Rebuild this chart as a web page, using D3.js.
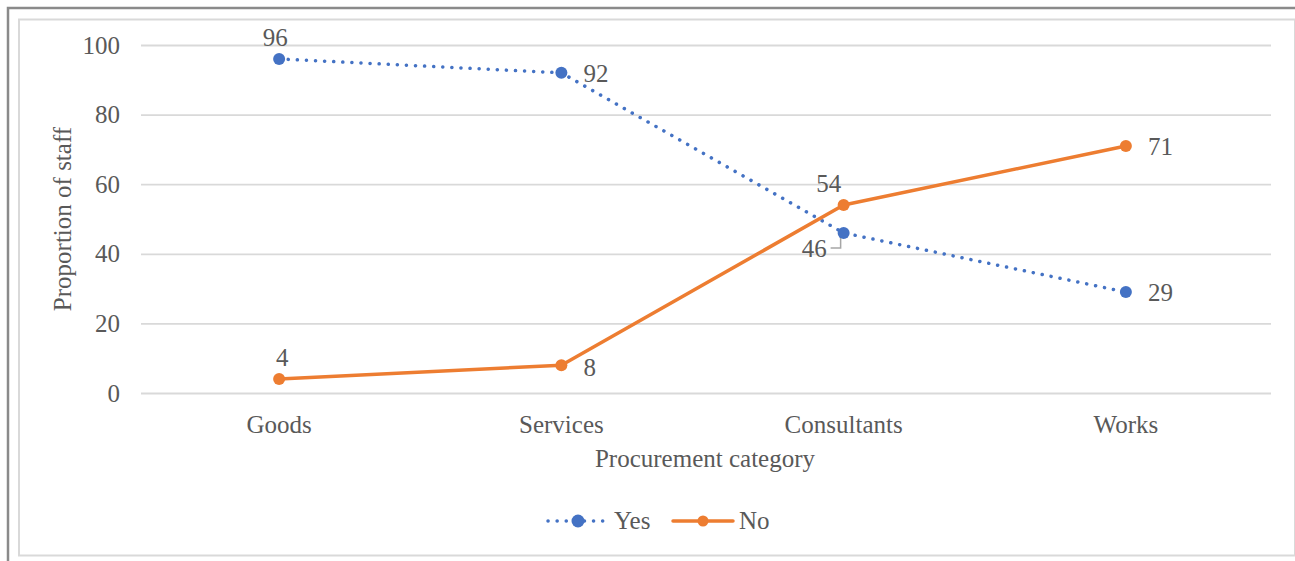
<!DOCTYPE html>
<html>
<head>
<meta charset="utf-8">
<script src="https://cdn.jsdelivr.net/npm/d3@7"></script>
<style>
  html, body { margin: 0; padding: 0; background: #fff; }
  svg { display: block; }
  text { font-family: "Liberation Serif", "Times New Roman", serif; fill: #595959; }
</style>
</head>
<body>
<svg id="chart" width="1295" height="561"></svg>
<script>
// Procurement categories along the x axis
const categories = ["Goods", "Services", "Consultants", "Works"];
// Share of staff answering Yes / No in each category
const yesValues = [96, 92, 46, 29];
const noValues = [4, 8, 54, 71];
// Label placement for each data label (above / right / left with leader)
const yesLabelPos = ["above", "right", "leaderLeft", "right"];
const noLabelPos = ["above", "right", "above", "right"];
const yTicks = [0, 20, 40, 60, 80, 100];

const series = [
  { name: "Yes", values: yesValues, color: "#4472C4", dotted: true, labels: yesLabelPos, shift: [-4, 0, 0, 0] },
  { name: "No", values: noValues, color: "#ED7D31", dotted: false, labels: noLabelPos, shift: [3, 0, -15, 0] }
];

const W = 1295, H = 561;
const FS = 25;
const plot = { left: 141, right: 1271, top: 45, bottom: 393 };
const svg = d3.select("#chart");

// Outer frames
svg.append("rect").attr("x", 8).attr("y", 8).attr("width", W).attr("height", H)
  .attr("fill", "none").attr("stroke", "#8a8a8a").attr("stroke-width", 2.5);
svg.append("rect").attr("x", 19).attr("y", 19.5).attr("width", 1276).attr("height", 536)
  .attr("fill", "#fff").attr("stroke", "#d9d9d9").attr("stroke-width", 2);

const x = d3.scaleBand().domain(categories).range([plot.left - 3, plot.right - 4]);
const y = d3.scaleLinear().domain([0, 100]).range([plot.bottom, plot.top]);
const cx = c => x(c) + x.bandwidth() / 2;

// Gridlines + y tick labels
const yAxis = d3.axisLeft(y).tickValues(yTicks).tickSize(-(plot.right - plot.left)).tickPadding(21);
const gy = svg.append("g").attr("transform", `translate(${plot.left},0)`).call(yAxis);
gy.select(".domain").remove();
gy.selectAll(".tick line").attr("stroke", "#d9d9d9").attr("stroke-width", 1.8);
gy.selectAll(".tick text").attr("font-size", FS).attr("fill", "#595959")
  .attr("font-family", "Liberation Serif, serif");

// X tick labels
const xAxis = d3.axisBottom(x).tickSize(0).tickPadding(22);
const gx = svg.append("g").attr("transform", `translate(0,${plot.bottom})`).call(xAxis);
gx.select(".domain").remove();
gx.selectAll(".tick text").attr("font-size", FS).attr("fill", "#595959")
  .attr("font-family", "Liberation Serif, serif");

// Axis titles
svg.append("text").attr("x", 705).attr("y", 467)
  .attr("text-anchor", "middle").attr("font-size", FS).text("Procurement category");
svg.append("text").attr("transform", `translate(71,${(plot.top + plot.bottom) / 2}) rotate(-90)`)
  .attr("text-anchor", "middle").attr("font-size", FS).text("Proportion of staff");

// Lines and markers
const line = d3.line().x((d, i) => cx(categories[i])).y(d => y(d));
series.forEach(s => {
  const p = svg.append("path").datum(s.values).attr("d", line)
    .attr("fill", "none").attr("stroke", s.color).attr("stroke-width", 3.5)
    .attr("stroke-linecap", "round").attr("stroke-linejoin", "round");
  if (s.dotted) p.attr("stroke-dasharray", "0.1 9");
  svg.append("g").selectAll("circle").data(s.values).join("circle")
    .attr("cx", (d, i) => cx(categories[i])).attr("cy", d => y(d))
    .attr("r", 6).attr("fill", s.color);
});

// Data labels
series.forEach(s => {
  s.values.forEach((v, i) => {
    const px = cx(categories[i]), py = y(v);
    const pos = s.labels[i];
    const t = svg.append("text").attr("font-size", FS).text(v);
    if (pos === "above") {
      t.attr("x", px + s.shift[i]).attr("y", py - 13).attr("text-anchor", "middle");
    } else if (pos === "right") {
      t.attr("x", px + 22).attr("y", py + 9 + (v < 10 ? 2 : 0)).attr("text-anchor", "start");
    } else if (pos === "leaderLeft") {
      t.attr("x", px - 17).attr("y", py + 24).attr("text-anchor", "end");
      svg.append("path")
        .attr("d", `M${px - 13},${py + 15} H${px - 3} V${py + 5}`)
        .attr("fill", "none").attr("stroke", "#a6a6a6").attr("stroke-width", 1.5);
    }
  });
});

// Legend
const legend = svg.append("g").attr("transform", "translate(0,521)");
const items = [
  { s: series[0], x0: 548 },
  { s: series[1], x0: 673 }
];
items.forEach(({ s, x0 }) => {
  const l = legend.append("line").attr("x1", x0).attr("x2", x0 + 60).attr("y1", 0).attr("y2", 0)
    .attr("stroke", s.color).attr("stroke-width", 3.5).attr("stroke-linecap", "round");
  if (s.dotted) l.attr("stroke-dasharray", "0.1 9");
  legend.append("circle").attr("cx", x0 + 30).attr("cy", 0).attr("r", s.dotted ? 6.5 : 5.5).attr("fill", s.color);
  legend.append("text").attr("x", x0 + 66).attr("y", 8).attr("font-size", FS).text(s.name);
});
</script>
</body>
</html>
